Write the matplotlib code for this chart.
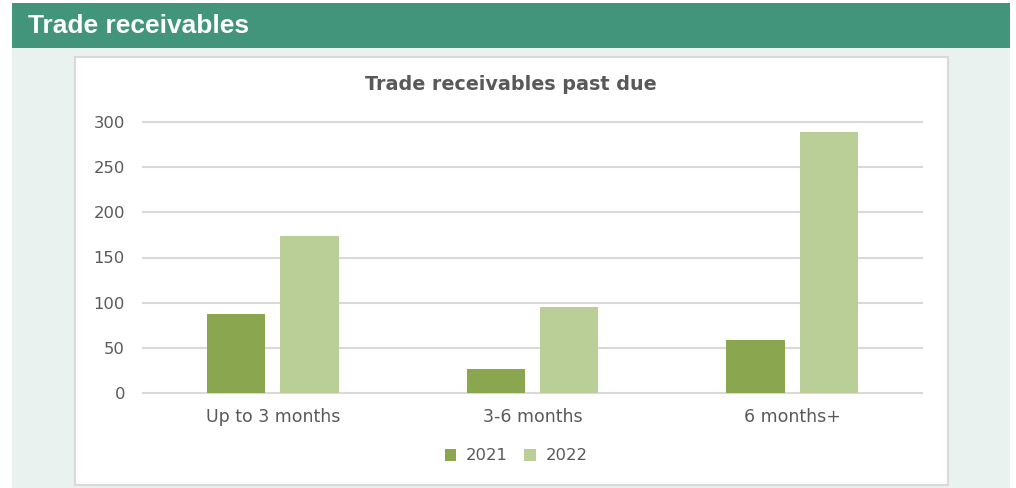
import matplotlib

matplotlib.use("Agg")
import matplotlib.pyplot as plt
from matplotlib.patches import Rectangle
import numpy as np

categories = ["Up to 3 months", "3-6 months", "6 months+"]
years = ["2021", "2022"]
values_2021 = [87, 27, 59]
values_2022 = [174, 95, 289]
y_ticks = [0, 50, 100, 150, 200, 250, 300]

W, H = 1016, 488
HEADER_GREEN = "#42957b"
MINT = "#e9f2ef"
DARK = "#8aa64e"
LIGHT = "#bacf98"
TEXT = "#595959"
GRID = "#d9d9d9"
FONT = ["DejaVu Sans"]


def px_rect(x0, y0, x1, y1, **kw):
    # rectangle given in pixel coordinates measured from the top-left corner
    return Rectangle((x0 / W, 1 - y1 / H), (x1 - x0) / W, (y1 - y0) / H,
                     transform=fig.transFigure, **kw)


fig = plt.figure(figsize=(W / 100, H / 100), dpi=100)
fig.patch.set_facecolor("white")

fig.patches.append(px_rect(12, 48, 1010, 488, facecolor=MINT, edgecolor="none", zorder=0))
fig.patches.append(px_rect(12, 3, 1010, 48, facecolor=HEADER_GREEN, edgecolor="none", zorder=0))
fig.patches.append(px_rect(74.5, 56.5, 948, 485, facecolor="white", edgecolor=GRID,
                           linewidth=1.5, zorder=0))

fig.text(28 / W, 1 - 26 / H, "Trade receivables", color="white", fontsize=19,
         fontweight="bold", family=["Liberation Sans", "DejaVu Sans"], va="center", ha="left")
fig.text(511 / W, 1 - 84 / H, "Trade receivables past due", color=TEXT, fontsize=13.8,
         fontweight="bold", family=FONT, va="center", ha="center")

ax = fig.add_axes([143 / W, 1 - 393 / H, 779 / W, 271 / H])
ax.set_zorder(2)
ax.set_facecolor("none")

x = np.arange(len(categories))
width = 0.225
offset = 0.141
ax.bar(x - offset, values_2021, width, color=DARK, label=years[0], zorder=3)
ax.bar(x + offset, values_2022, width, color=LIGHT, label=years[1], zorder=3)

ax.set_xlim(-0.5, len(categories) - 0.5)
ax.set_ylim(0, 300)
ax.set_yticks(y_ticks)
ax.set_xticks(x)
ax.set_xticklabels(categories)
for s in ax.spines.values():
    s.set_visible(False)
ax.grid(axis="y", color=GRID, linewidth=1.5, zorder=0)
for gl in ax.get_ygridlines():
    gl.set_clip_on(False)
ax.tick_params(axis="both", length=0, colors=TEXT)
ax.tick_params(axis="y", pad=13, labelsize=11.8)
ax.tick_params(axis="x", pad=11, labelsize=12.5)
for lab in ax.get_xticklabels() + ax.get_yticklabels():
    lab.set_family(FONT)

leg = ax.legend(loc="center", bbox_to_anchor=(516 / W, 1 - 456 / H),
                bbox_transform=fig.transFigure, ncol=2, frameon=False,
                handlelength=0.7, handleheight=0.7, handletextpad=0.6,
                columnspacing=1.0, prop={"family": FONT, "size": 11.8})
for t in leg.get_texts():
    t.set_color(TEXT)

fig.savefig("out.png", dpi=100)
